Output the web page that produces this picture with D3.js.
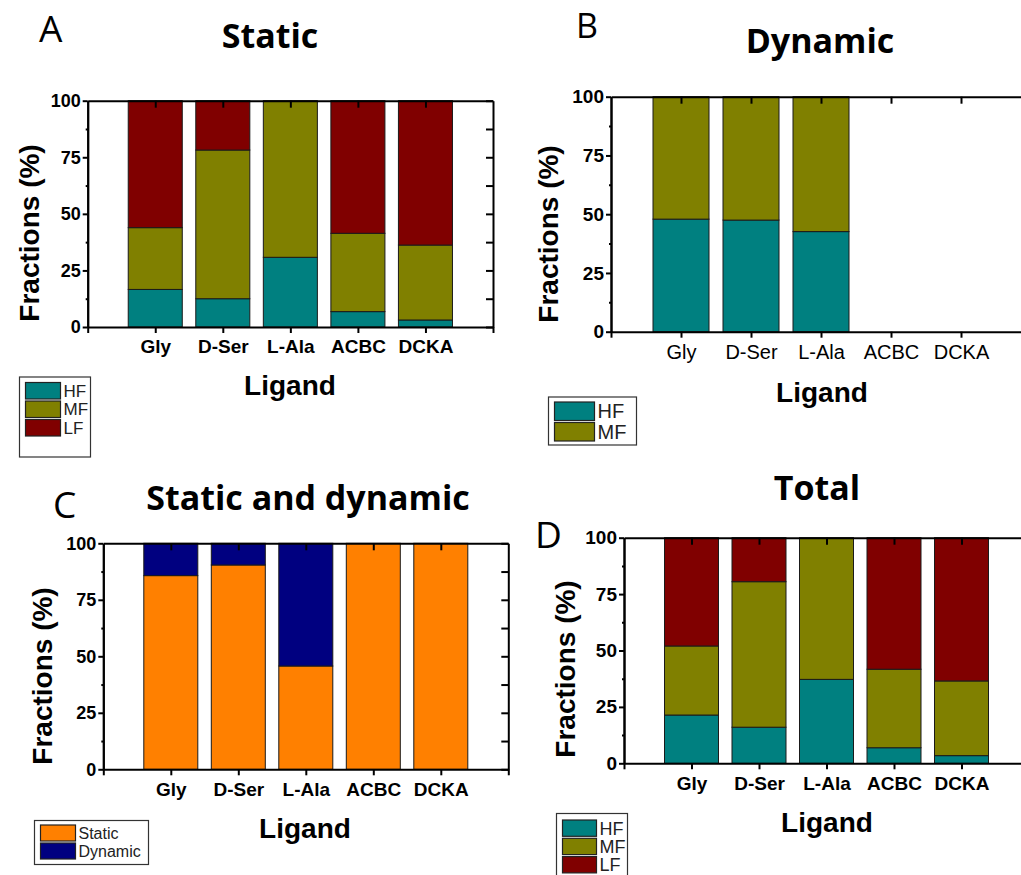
<!DOCTYPE html>
<html>
<head>
<meta charset="utf-8">
<script src="https://cdn.jsdelivr.net/npm/d3@7"></script>
<style>
  body { margin: 0; background: #fff; }
  svg { display: block; }
  .axis path, .axis line { stroke: #000; stroke-width: 2px; }
  .tick text { font-family: "Liberation Sans", Arial, sans-serif; fill: #000; }
</style>
</head>
<body>
<script>
// categories
var ligands = ["Gly", "D-Ser", "L-Ala", "ACBC", "DCKA"];

// A: static fractions (%)
var staticHF = [16.6, 12.5, 30.8, 6.8, 3.1];
var staticMF = [27.3, 65.7, 69.2, 34.6, 33.1];
var staticLF = [56.1, 21.8, 0, 58.6, 63.8];

// B: dynamic fractions (%)
var dynamicHF = [47.9, 47.5, 42.6, 0, 0];
var dynamicMF = [52.1, 52.5, 57.4, 0, 0];

// C: static vs dynamic (%)
var sdStatic = [85.7, 90.4, 45.7, 100, 100];
var sdDynamic = [14.3, 9.6, 54.3, 0, 0];

// D: total fractions (%)
var totalHF = [21.4, 16.0, 37.2, 6.9, 3.4];
var totalMF = [30.6, 64.5, 62.8, 34.8, 33.1];
var totalLF = [48.0, 19.5, 0, 58.3, 63.5];

var yTicks = [0, 25, 50, 75, 100];

var colors = {HF: "#008080", MF: "#808000", LF: "#800000", Static: "#ff8000", Dynamic: "#000080"};

var svg = d3.select("body").append("svg")
    .attr("width", 1021)
    .attr("height", 875);

function drawPanel(p) {
  var x = d3.scaleLinear().domain([0, 6]).range([p.left, p.left + p.width]);
  var y = d3.scaleLinear().domain([0, 100]).range([p.top + p.height, p.top]);
  var step = x(1) - x(0);

  // build rows for the stack
  var rows = ligands.map(function(l, i) {
    var r = {ligand: l, idx: i + 1};
    p.keys.forEach(function(k, j) { r[k] = p.series[j][i]; });
    return r;
  });
  var stack = d3.stack().keys(p.keys)(rows);

  var g = svg.append("g");

  g.selectAll(".layer")
      .data(stack)
    .enter().append("g")
      .attr("fill", function(d) { return colors[d.key]; })
    .selectAll("rect")
      .data(function(d) { return d.filter(function(e) { return e[1] - e[0] > 0; }); })
    .enter().append("rect")
      .attr("x", function(d) { return x(d.data.idx) - step * 0.4; })
      .attr("width", step * 0.8)
      .attr("y", function(d) { return y(d[1]); })
      .attr("height", function(d) { return y(d[0]) - y(d[1]); })
      .attr("stroke", "#1a1a1a")
      .attr("stroke-width", 1);

  // bottom axis
  var bottom = g.append("g")
      .attr("class", "axis")
      .attr("transform", "translate(0," + y(0) + ")")
      .call(d3.axisBottom(x).tickValues([0, 1, 2, 3, 4, 5, 6])
        .tickFormat(function(i) { return ligands[i - 1] || ""; })
        .tickSizeInner(6).tickSizeOuter(0).tickPadding(7));
  bottom.selectAll(".tick text")
      .attr("font-size", p.xFont)
      .attr("font-weight", p.xBold ? "bold" : "normal")
      .attr("fill", p.xBold ? "#000" : "#333");

  // top axis, ticks pointing in
  g.append("g")
      .attr("class", "axis")
      .attr("transform", "translate(0," + y(100) + ")")
      .call(d3.axisTop(x).tickValues([1, 2, 3, 4, 5]).tickFormat("")
        .tickSizeInner(-7).tickSizeOuter(0));

  // left axis
  g.append("g")
      .attr("class", "axis")
      .attr("transform", "translate(" + x(0) + ",0)")
      .call(d3.axisLeft(y).tickValues([12.5, 37.5, 62.5, 87.5]).tickFormat("")
        .tickSizeInner(2).tickSizeOuter(0));
  var left = g.append("g")
      .attr("class", "axis")
      .attr("transform", "translate(" + x(0) + ",0)")
      .call(d3.axisLeft(y).tickValues(yTicks)
        .tickSizeInner(5).tickSizeOuter(0).tickPadding(2));
  left.selectAll(".tick text")
      .attr("font-size", p.yFont)
      .attr("font-weight", "bold");

  // right axis, ticks pointing in
  g.append("g")
      .attr("class", "axis")
      .attr("transform", "translate(" + x(6) + ",0)")
      .call(d3.axisRight(y).tickValues(d3.range(0, 100.1, 12.5)).tickFormat("")
        .tickSizeInner(-7).tickSizeOuter(0));

  // titles and labels
  svg.append("text")
      .attr("x", p.title[1]).attr("y", p.title[2])
      .attr("text-anchor", "middle")
      .style("font-family", "'Open Sans', sans-serif")
      .style("font-weight", "bold")
      .style("font-size", "34px")
      .text(p.title[0]);

  svg.append("text")
      .attr("x", p.letter[1]).attr("y", p.letter[2])
      .style("font-family", "'Open Sans', sans-serif")
      .style("font-size", (p.letter[3] || 37) + "px")
      .text(p.letter[0]);

  svg.append("text")
      .attr("transform", "translate(" + p.yLab[0] + "," + p.yLab[1] + ") rotate(-90)")
      .attr("text-anchor", "middle")
      .attr("dy", "0.35em")
      .style("font-family", "'Liberation Sans', Arial, sans-serif")
      .style("font-weight", "bold")
      .style("font-size", "28px")
      .text("Fractions (%)");

  svg.append("text")
      .attr("x", p.xLab[0]).attr("y", p.xLab[1])
      .attr("text-anchor", "middle")
      .style("font-family", "'Liberation Sans', Arial, sans-serif")
      .style("font-weight", "bold")
      .style("font-size", "28px")
      .text("Ligand");

  // legend
  var lg = p.legend;
  svg.append("rect")
      .attr("x", lg.x).attr("y", lg.y)
      .attr("width", lg.w).attr("height", lg.h)
      .attr("fill", "#fff")
      .attr("stroke", "#333")
      .attr("stroke-width", 1.2);
  p.keys.forEach(function(k, j) {
    var ry = lg.y + lg.pad + j * lg.row;
    svg.append("rect")
        .attr("x", lg.x + 6).attr("y", ry)
        .attr("width", lg.sw).attr("height", lg.row - 2)
        .attr("fill", colors[k])
        .attr("stroke", "#222")
        .attr("stroke-width", 1.2);
    svg.append("text")
        .attr("x", lg.x + 9 + lg.sw).attr("y", ry + (lg.row - 2) / 2)
        .attr("dy", "0.36em")
        .style("font-family", "'Liberation Sans', Arial, sans-serif")
        .style("font-size", lg.font + "px")
        .attr("fill", "#222")
        .text(k);
  });
}

drawPanel({
  left: 87.7, top: 100.7, width: 405.3, height: 226.3,
  keys: ["HF", "MF", "LF"], series: [staticHF, staticMF, staticLF],
  xFont: 19, yFont: 18, xBold: true,
  title: ["Static", 270, 48], letter: ["A", 39, 42],
  yLab: [29, 233], xLab: [290, 395],
  legend: {x: 19.5, y: 377, w: 71, h: 80, pad: 5.5, row: 18.5, sw: 35, font: 17}
});

drawPanel({
  left: 611, top: 96.7, width: 420, height: 235,
  keys: ["HF", "MF"], series: [dynamicHF, dynamicMF],
  xFont: 20, yFont: 19, xBold: false,
  title: ["Dynamic", 820, 53], letter: ["B", 576, 38, 34],
  yLab: [548, 234], xLab: [822, 402],
  legend: {x: 548.5, y: 397, w: 88, h: 48, pad: 5, row: 20.5, sw: 40, font: 20}
});

drawPanel({
  left: 103.3, top: 543.3, width: 405, height: 226,
  keys: ["Static", "Dynamic"], series: [sdStatic, sdDynamic],
  xFont: 19, yFont: 18, xBold: true,
  title: ["Static and dynamic", 308, 510], letter: ["C", 53, 518],
  yLab: [42, 676], xLab: [305, 838],
  legend: {x: 34.5, y: 820.5, w: 114, h: 44, pad: 4.5, row: 18, sw: 35, font: 16}
});

drawPanel({
  left: 624, top: 537.7, width: 405, height: 225.6,
  keys: ["HF", "MF", "LF"], series: [totalHF, totalMF, totalLF],
  xFont: 19, yFont: 19, xBold: true,
  title: ["Total", 817, 500], letter: ["D", 535, 548],
  yLab: [565, 669], xLab: [827, 832],
  legend: {x: 556.5, y: 813.5, w: 71, h: 70, pad: 6.5, row: 18.3, sw: 34, font: 18}
});
</script>
</body>
</html>
